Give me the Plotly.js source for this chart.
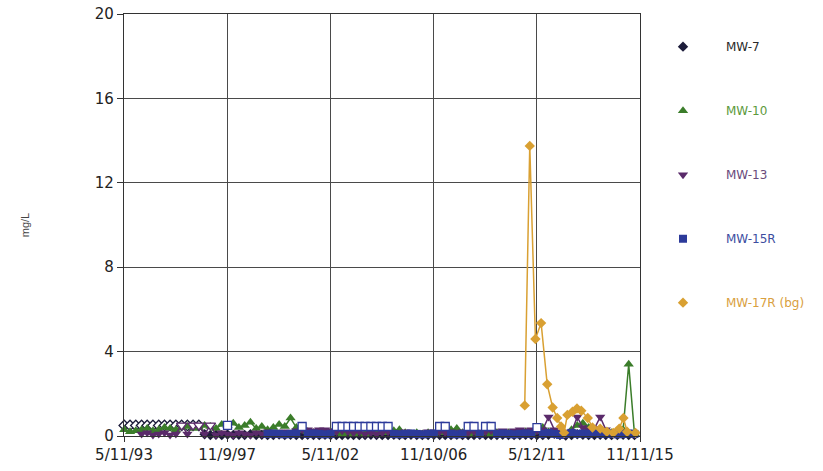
<!DOCTYPE html>
<html><head><meta charset="utf-8">
<script src="https://cdn.plot.ly/plotly-3.0.1.min.js"></script>
<style>html,body{margin:0;padding:0;background:#fff}#chart{width:823px;height:471px}</style>
</head><body><div id="chart"></div>
<script>
// Quarterly sampling dates shared by MW-7, MW-10, MW-13, MW-15R
const sampleDates = [
 '1993-05-15','1993-08-15','1993-11-15',
 '1994-02-15','1994-05-15','1994-08-15','1994-11-15',
 '1995-02-15','1995-05-15','1995-08-15','1995-11-15',
 '1996-02-15','1996-05-15','1996-08-15','1996-11-15',
 '1997-02-15','1997-05-15','1997-08-15','1997-11-15',
 '1998-02-15','1998-05-15','1998-08-15','1998-11-15',
 '1999-02-15','1999-05-15','1999-08-15','1999-11-15',
 '2000-02-15','2000-05-15','2000-08-15','2000-11-15',
 '2001-02-15','2001-05-15','2001-08-15','2001-11-15',
 '2002-02-15','2002-05-15','2002-08-15','2002-11-15',
 '2003-02-15','2003-05-15','2003-08-15','2003-11-15',
 '2004-02-15','2004-05-15','2004-08-15','2004-11-15',
 '2005-02-15','2005-05-15','2005-08-15','2005-11-15',
 '2006-02-15','2006-05-15','2006-08-15','2006-11-15',
 '2007-02-15','2007-05-15','2007-08-15','2007-11-15',
 '2008-02-15','2008-05-15','2008-08-15','2008-11-15',
 '2009-02-15','2009-05-15','2009-08-15','2009-11-15',
 '2010-02-15','2010-05-15','2010-08-15','2010-11-15',
 '2011-02-15','2011-05-15','2011-08-15','2011-11-15',
 '2012-02-15','2012-05-15','2012-08-15','2012-11-15',
 '2013-02-15','2013-05-15','2013-08-15','2013-11-15',
 '2014-02-15','2014-05-15','2014-08-15','2014-11-15',
 '2015-02-15','2015-05-15','2015-08-15'
];

const mw7 = [
 0.5,0.5,0.5, 0.5,0.5,0.5,0.5, 0.5,0.5,0.5,0.5, 0.5,0.5,0.5,0.08,
 0.05,0.06,0.04,0.07, 0.05,0.06,0.05,0.08, 0.05,0.06,0.04,0.05,
 0.07,0.05,0.06,0.04, 0.05,0.06,0.05,0.04, 0.06,0.05,0.04,0.05,
 0.06,0.05,0.04,0.05, 0.06,0.05,0.04,0.05, 0.06,0.05,0.04,0.06,
 0.05,0.04,0.05,0.06, 0.05,0.04,0.05,0.06, 0.05,0.04,0.05,0.06,
 0.05,0.04,0.05,0.06, 0.05,0.04,0.05,0.06, 0.05,0.04,0.05,0.06,
 0.1,0.05,0.02,0.04, 0.08,0.06,0.05,0.04, 0.06,0.05,0.04,0.05,
 0.06,0.05,0.04
];
const mw7ND = [0,1,2,3,4,5,6,7,8,9,10,11,12,13];

const mw10 = [
 0.3,0.2,0.25, 0.3,0.35,0.25,0.3, 0.4,0.35,0.3,0.4, 0.45,0.35,0.4,0.5,
 0.45,0.35,0.55,0.5, 0.6,0.4,0.5,0.65, 0.35,0.45,0.3,0.4,
 0.55,0.45,0.85,0.4, 0.25,0.2,0.15,0.2, 0.15,0.2,0.15,0.1,
 0.15,0.1,0.15,0.1, 0.15,0.2,0.15,0.2, 0.25,0.3,0.15,0.1,
 0.15,0.1,0.15,0.1, 0.15,0.2,0.3,0.35, 0.15,0.1,0.15,0.1,
 0.15,0.1,0.15,0.1, 0.15,0.1,0.15,0.2, 0.15,0.2,0.4,0.2,
 0.15,0.1,0.05,0.3, 0.5,0.6,0.4,0.2, 0.15,0.1,0.15,0.1,
 0.3,3.4,0.1
];
const mw10ND = [];

const mw13 = [
 null,null,null, 0.1,0.15,0.05,0.1, 0.15,0.05,0.1,0.5, 0.1,0.5,0.5,0.1,
 0.5,0.05,0.15,0.1, 0.05,0.15,0.1,0.05, 0.15,0.1,0.2,0.15,
 0.1,0.2,0.15,0.25, 0.3,0.3,0.25,0.3, 0.3,0.25,0.2,0.25,
 0.2,0.15,0.2,0.1, 0.15,0.1,0.15,0.2, 0.15,0.15,0.2,0.15,
 0.1,0.15,0.2,0.15, 0.2,0.15,0.2,0.15, 0.2,0.15,0.2,0.15,
 0.2,0.25,0.2,0.25, 0.2,0.25,0.3,0.25, 0.3,0.25,0.3,0.9,
 0.3,0.2,0.1,0.2, 0.9,0.4,0.3,0.35, 0.9,0.3,0.2,0.15,
 0.2,0.15,0.1
];
const mw13ND = [10,12,13,15];

const mw15r = [
 null,null,null, null,null,null,null, null,null,null,null, null,null,null,null,
 null,null,null,0.5, null,null,null,null, null,null,0.1,0.12,
 0.1,0.08,0.1,0.12, 0.45,0.1,0.12,0.1, 0.08,0.1,0.45,0.45,
 0.45,0.45,0.45,0.45, 0.45,0.45,0.45,0.45, 0.1,0.08,0.1,0.12,
 0.1,0.08,0.1,0.12, 0.45,0.45,0.1,0.08, 0.1,0.45,0.45,0.1,
 0.45,0.45,0.1,0.12, 0.1,0.08,0.1,0.12, 0.1,0.4,0.1,0.15,
 0.1,0.05,0.1,0.15, 0.1,0.12,0.1,0.15, 0.1,0.12,0.1,0.08,
 0.1,0.12,0.1
];
const mw15rND = [18,31,37,38,39,40,41,42,43,44,45,46,55,56,60,61,63,64,72];

// MW-17R (background well) has its own sampling dates
const mw17rDates = [
 '2010-11-01','2011-01-20','2011-04-20','2011-07-20','2011-10-25',
 '2012-01-20','2012-04-01','2012-06-01','2012-07-20','2012-09-10',
 '2012-12-01','2013-02-10','2013-04-20','2013-08-01','2013-10-15',
 '2014-02-15','2014-06-01','2014-09-10','2014-12-15','2015-02-20',
 '2015-04-20','2015-09-01'
];
const mw17r = [
 1.45,13.75,4.6,5.35,2.45,
 1.35,0.85,0.45,0.15,1.0,
 1.15,1.3,1.2,0.85,0.4,
 0.35,0.2,0.15,0.35,0.85,
 0.2,0.15
];

const seriesNames = ['MW-7','MW-10','MW-13','MW-15R','MW-17R (bg)'];
const tickDates = ['1993-05-11','1997-11-09','2002-05-11','2006-11-10','2011-05-12','2015-11-11'];
const tickLabels = ['5/11/93','11/9/97','5/11/02','11/10/06','5/12/11','11/11/15'];

const styles = [
 {color:'#1c1c3a', text:'#2a2a2a', symbol:'diamond', size:8},
 {color:'#3b7d2a', text:'#5c9a3c', symbol:'triangle-up', size:9},
 {color:'#5a2a6a', text:'#6a4a7c', symbol:'triangle-down', size:9},
 {color:'#2c3a9a', text:'#3d4da0', symbol:'square', size:8},
 {color:'#d9a032', text:'#d9a040', symbol:'diamond', size:8}
];

const seriesData = [
 {x: sampleDates, y: mw7, nd: mw7ND},
 {x: sampleDates, y: mw10, nd: mw10ND},
 {x: sampleDates, y: mw13, nd: mw13ND},
 {x: sampleDates, y: mw15r, nd: mw15rND},
 {x: mw17rDates, y: mw17r, nd: []}
];

const traces = [];
seriesData.forEach((s, k) => {
  const st = styles[k];
  traces.push({
    type:'scatter', mode:'lines', x:s.x, y:s.y,
    showlegend:false, legendgroup:'g'+k, cliponaxis:false,
    line:{color:st.color, width:1.5}, hoverinfo:'skip'
  });
  traces.push({
    type:'scatter', mode:'markers', x:s.x, y:s.y,
    name:'<span style="color:' + st.text + '">' + seriesNames[k] + '</span>',
    legendgroup:'g'+k, cliponaxis:false,
    marker:{symbol:st.symbol, size:st.size, color:st.color, line:{width:0}},
    hoverinfo:'x+y'
  });
  if (s.nd.length) {
    traces.push({
      type:'scatter', mode:'markers',
      x:s.nd.map(i => s.x[i]), y:s.nd.map(i => s.y[i]),
      showlegend:false, legendgroup:'g'+k, cliponaxis:false,
      marker:{symbol:st.symbol, size:st.size, color:'#ffffff', line:{width:1.3, color:st.color}},
      hoverinfo:'x+y'
    });
  }
});

const layout = {
  width:823, height:471,
  margin:{l:124, r:183, t:14, b:35},
  paper_bgcolor:'#ffffff', plot_bgcolor:'#ffffff',
  showlegend:true,
  legend:{x:1.0, xanchor:'left', y:0.957, yanchor:'top', tracegroupgap:45,
          font:{family:'DejaVu Sans', size:12, color:'#333'}, itemwidth:76,
          bgcolor:'rgba(0,0,0,0)'},
  xaxis:{type:'date', range:['1993-05-11','2015-11-11'],
         tickmode:'array', tickvals:tickDates, ticktext:tickLabels,
         showgrid:true, gridcolor:'#4a4a4a', gridwidth:1,
         showline:true, mirror:true, linecolor:'#333', linewidth:1.2,
         ticks:'outside', ticklen:5, tickcolor:'#333',
         tickfont:{family:'DejaVu Sans', size:15, color:'#222'}, zeroline:false},
  yaxis:{range:[0,20], tickmode:'linear', tick0:0, dtick:4,
         showgrid:true, gridcolor:'#4a4a4a', gridwidth:1,
         showline:true, mirror:true, linecolor:'#333', linewidth:1.2,
         ticks:'outside', ticklen:6, tickcolor:'#333',
         tickfont:{family:'DejaVu Sans', size:15, color:'#222'}, zeroline:false,
         title:{text:'mg/L', standoff:62, font:{family:'Liberation Sans', size:11, color:'#444'}}}
};

Plotly.newPlot('chart', traces, layout, {displayModeBar:false, staticPlot:true});
</script>
</body></html>
